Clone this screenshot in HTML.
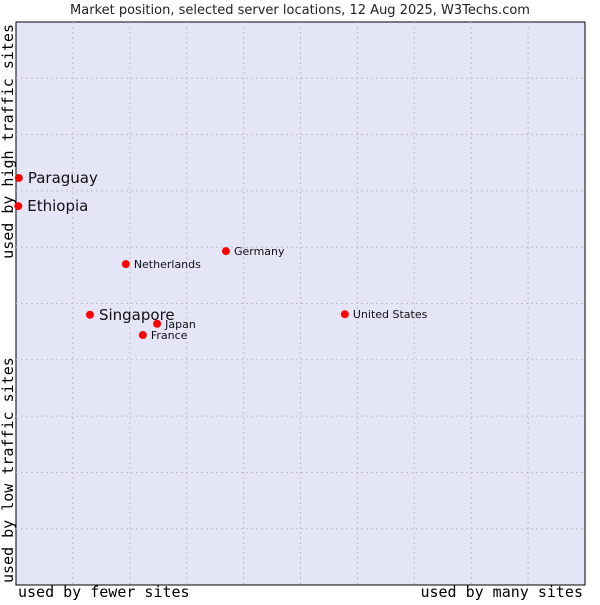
<!DOCTYPE html>
<html><head><meta charset="utf-8"><style>
body{margin:0;background:#fff;}
svg text{font-family:"DejaVu Sans","Liberation Sans",sans-serif;}
.mono{font-family:"DejaVu Sans Mono","Liberation Mono",monospace !important;font-size:15px;}
</style></head><body>
<svg id="chart" width="600" height="600" xmlns="http://www.w3.org/2000/svg">
<text x="300" y="14" text-anchor="middle" font-size="13" fill="#222">Market position, selected server locations, 12 Aug 2025, W3Techs.com</text>
<rect x="16" y="22" width="569" height="563" fill="#e4e6f8" stroke="#000" stroke-width="1"/>
<g id="grid"></g>
<g id="points"></g>
<text class="mono" x="18" y="597">used by fewer sites</text>
<text class="mono" x="583" y="597" text-anchor="end">used by many sites</text>
<text class="mono" transform="translate(13,24) rotate(-90)" text-anchor="end">used by high traffic sites</text>
<text class="mono" transform="translate(13,583) rotate(-90)">used by low traffic sites</text>
</svg>
<script>
const names=["Paraguay","Ethiopia","Netherlands","Germany","Singapore","Japan","France","United States"];
const xVals=[0.5,0.4,19.3,36.9,13.0,24.8,22.3,57.8];
const yVals=[72.3,67.3,57.0,59.3,48.0,46.4,44.4,48.1];
const highlighted=[true,true,false,false,true,false,false,false];
const X0=16,X1=585,Y0=585,Y1=22;
function sx(v){return X0+v/100*(X1-X0);}
function sy(v){return Y0-v/100*(Y0-Y1);}
const ns="http://www.w3.org/2000/svg";
const grid=document.getElementById('grid');
for(let i=1;i<10;i++){
  const v=document.createElementNS(ns,'line');
  
  
  v.setAttribute('x1',sx(i*10));v.setAttribute('x2',sx(i*10));
  v.setAttribute('y1',Y1);v.setAttribute('y2',Y0);
  v.setAttribute('stroke','#c0c0c0');v.setAttribute('stroke-dasharray','2,3');
  grid.appendChild(v);
  const h=document.createElementNS(ns,'line');
  
  
  h.setAttribute('y1',sy(i*10));h.setAttribute('y2',sy(i*10));
  h.setAttribute('x1',X0);h.setAttribute('x2',X1);
  h.setAttribute('stroke','#c0c0c0');h.setAttribute('stroke-dasharray','2,3');
  grid.appendChild(h);
}
const pts=document.getElementById('points');
names.forEach((n,i)=>{
  const x=sx(xVals[i]),y=sy(yVals[i]);
  const c=document.createElementNS(ns,'circle');
  
  
  c.setAttribute('cx',x);c.setAttribute('cy',y);c.setAttribute('r',4);c.setAttribute('fill','#f00');
  pts.appendChild(c);
  const t=document.createElementNS(ns,'text');
  
  
  const big=highlighted[i];
  t.setAttribute('x',x+(big?9:8));t.setAttribute('y',y+(big?5:4));
  t.setAttribute('font-size',big?15:11);t.setAttribute('fill','#111');
  t.textContent=n;
  pts.appendChild(t);
});
</script>
</body></html>
